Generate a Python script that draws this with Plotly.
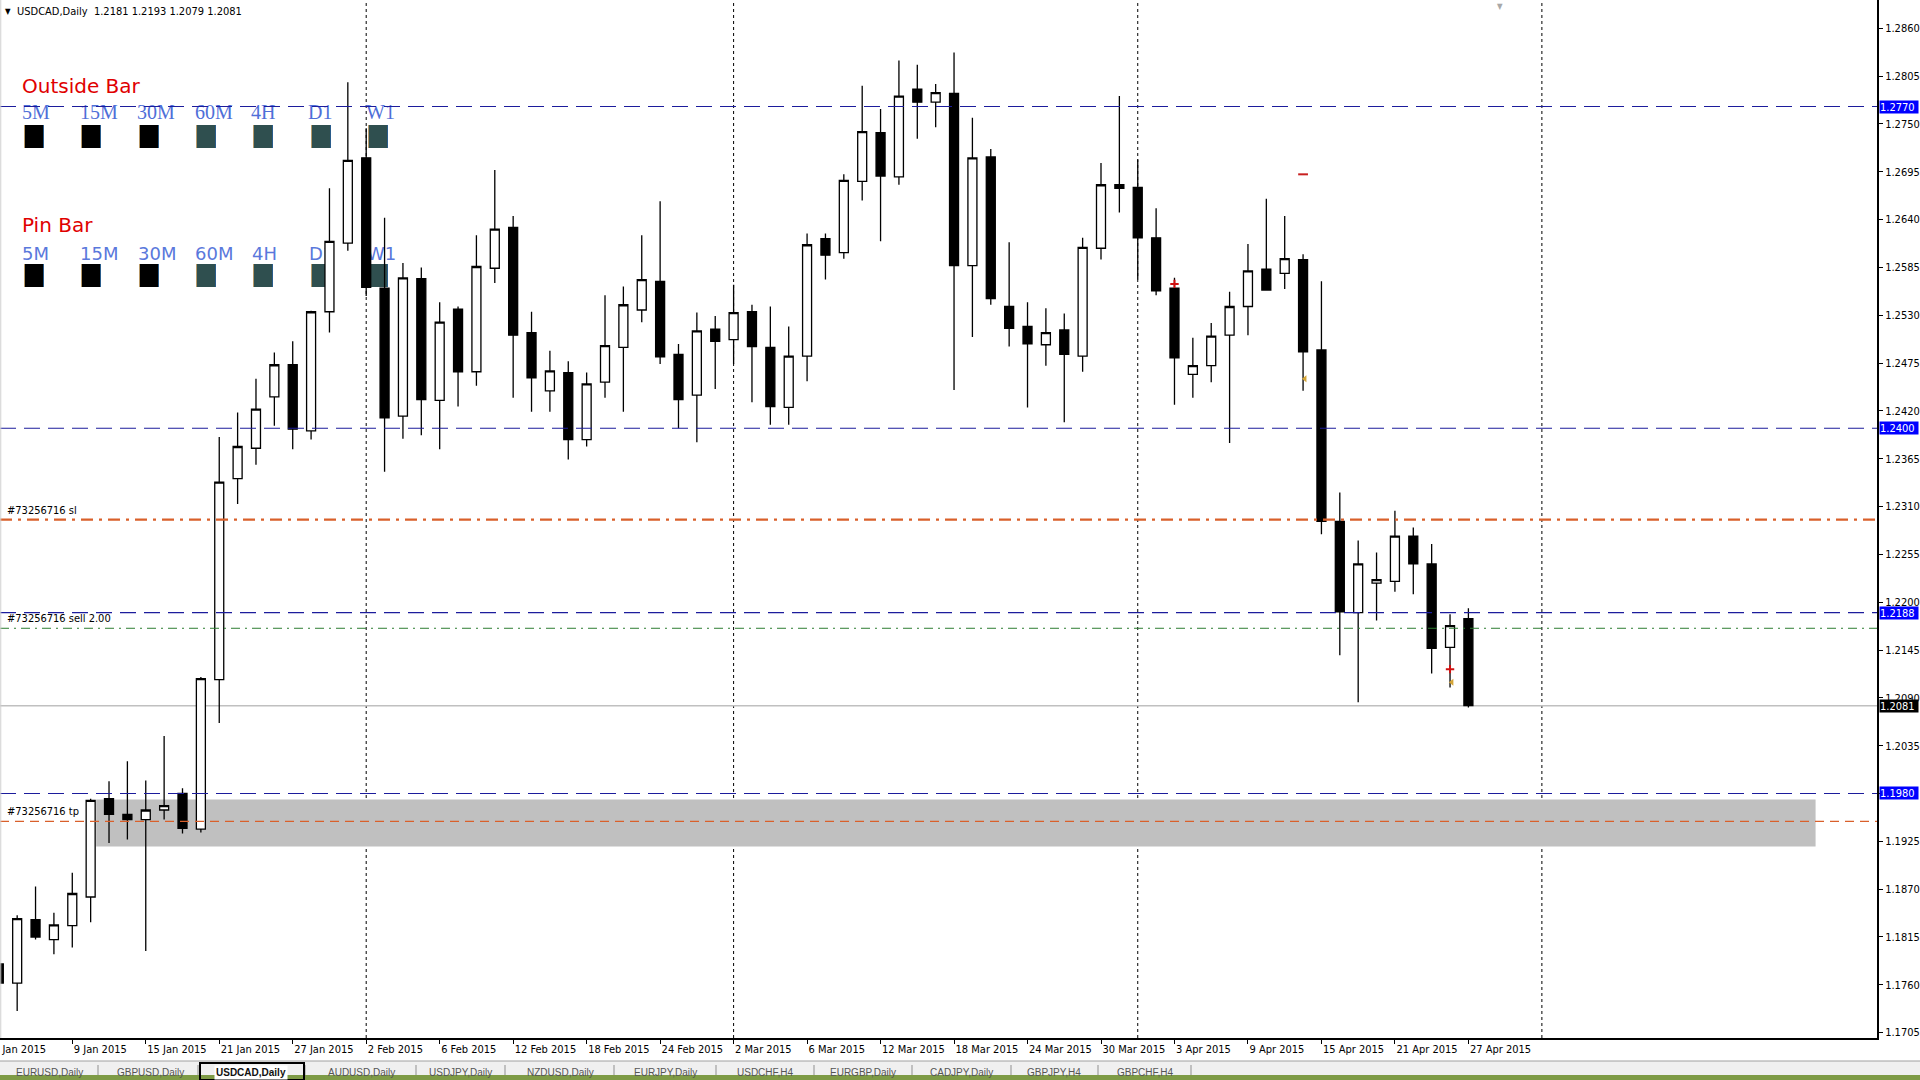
import pandas as pd
import plotly.graph_objects as go

# ---------------- data ----------------
dates = pd.bdate_range("2015-01-05", "2015-04-27")  # 81 daily bars (forex, Mon-Fri)

opens = [1.1784, 1.1762, 1.1835, 1.1812, 1.1828, 1.1861, 1.1974, 1.1956, 1.1950, 1.1961,
         1.1980, 1.1939, 1.2111, 1.2342, 1.2377, 1.2436, 1.2473, 1.2397, 1.2534, 1.2613,
         1.2711, 1.2561, 1.2414, 1.2572, 1.2432, 1.2537, 1.2465, 1.2584, 1.2631, 1.2510,
         1.2443, 1.2464, 1.2387, 1.2453, 1.2493, 1.2536, 1.2569, 1.2485, 1.2438, 1.2514,
         1.2502, 1.2534, 1.2493, 1.2424, 1.2483, 1.2618, 1.2602, 1.2684, 1.2740, 1.2689,
         1.2790, 1.2775, 1.2785, 1.2587, 1.2712, 1.2540, 1.2517, 1.2496, 1.2513, 1.2483,
         1.2607, 1.2680, 1.2677, 1.2619, 1.2561, 1.2462, 1.2472, 1.2507, 1.2540, 1.2583,
         1.2578, 1.2594, 1.2490, 1.2293, 1.2188, 1.2222, 1.2224, 1.2276, 1.2244, 1.2148,
         1.2181]
highs = [1.1790, 1.1840, 1.1873, 1.1843, 1.1889, 1.1974, 1.1994, 1.2017, 1.1995, 1.2046,
         1.1986, 1.2114, 1.2390, 1.2418, 1.2457, 1.2487, 1.2500, 1.2535, 1.2676, 1.2798,
         1.2745, 1.2642, 1.2590, 1.2585, 1.2545, 1.2540, 1.2622, 1.2697, 1.2644, 1.2534,
         1.2489, 1.2477, 1.2464, 1.2553, 1.2563, 1.2622, 1.2661, 1.2497, 1.2533, 1.2529,
         1.2565, 1.2542, 1.2540, 1.2517, 1.2624, 1.2624, 1.2692, 1.2794, 1.2767, 1.2823,
         1.2818, 1.2796, 1.2832, 1.2757, 1.2721, 1.2614, 1.2545, 1.2538, 1.2532, 1.2619,
         1.2705, 1.2782, 1.2709, 1.2653, 1.2573, 1.2504, 1.2521, 1.2557, 1.2612, 1.2664,
         1.2644, 1.2600, 1.2569, 1.2326, 1.2271, 1.2257, 1.2305, 1.2286, 1.2267, 1.2186,
         1.2193]
lows = [1.1752, 1.1730, 1.1812, 1.1795, 1.1803, 1.1832, 1.1923, 1.1927, 1.1799, 1.1950,
        1.1934, 1.1935, 1.2061, 1.2313, 1.2358, 1.2403, 1.2376, 1.2387, 1.2510, 1.2604,
        1.2552, 1.2350, 1.2388, 1.2392, 1.2376, 1.2425, 1.2449, 1.2567, 1.2435, 1.2419,
        1.2419, 1.2364, 1.2379, 1.2435, 1.2419, 1.2522, 1.2474, 1.2400, 1.2384, 1.2445,
        1.2474, 1.2430, 1.2404, 1.2404, 1.2454, 1.2571, 1.2595, 1.2662, 1.2615, 1.2680,
        1.2733, 1.2746, 1.2444, 1.2505, 1.2542, 1.2494, 1.2424, 1.2472, 1.2407, 1.2465,
        1.2594, 1.2648, 1.2571, 1.2553, 1.2427, 1.2435, 1.2453, 1.2383, 1.2507, 1.2558,
        1.2560, 1.2443, 1.2278, 1.2139, 1.2085, 1.2179, 1.2212, 1.2209, 1.2118, 1.2102,
        1.2079]
closes = [1.1762, 1.1836, 1.1815, 1.1829, 1.1865, 1.1972, 1.1956, 1.1950, 1.1961, 1.1966,
          1.1940, 1.2112, 1.2338, 1.2379, 1.2422, 1.2473, 1.2399, 1.2534, 1.2615, 1.2708,
          1.2562, 1.2412, 1.2573, 1.2433, 1.2522, 1.2465, 1.2586, 1.2629, 1.2507, 1.2458,
          1.2466, 1.2387, 1.2451, 1.2495, 1.2542, 1.2571, 1.2482, 1.2433, 1.2512, 1.2500,
          1.2533, 1.2494, 1.2425, 1.2483, 1.2611, 1.2599, 1.2685, 1.2741, 1.2690, 1.2782,
          1.2775, 1.2786, 1.2587, 1.2711, 1.2549, 1.2515, 1.2497, 1.2510, 1.2485, 1.2608,
          1.2680, 1.2676, 1.2619, 1.2558, 1.2481, 1.2472, 1.2506, 1.2540, 1.2581, 1.2559,
          1.2595, 1.2488, 1.2293, 1.2189, 1.2244, 1.2226, 1.2276, 1.2244, 1.2147, 1.2173,
          1.2081]

y_ticks = [1.1705, 1.1760, 1.1815, 1.1870, 1.1925, 1.1980, 1.2035, 1.2090, 1.2145, 1.2200,
           1.2255, 1.2310, 1.2365, 1.2420, 1.2475, 1.2530, 1.2585, 1.2640, 1.2695, 1.2750,
           1.2805, 1.2860]
first_label = "5 Jan 2015"
month_starts = ["2015-02-02", "2015-03-02", "2015-04-01", "2015-05-01"]

h_levels = [1.2770, 1.2400, 1.2188, 1.1980]      # blue horizontal lines
bid_price = 1.2081
order_open, order_sl, order_tp = 1.2170, 1.2295, 1.1948
zone_low, zone_high = 1.1919, 1.1973
zone_from, zone_to = "2015-01-12", "2015-05-22"

# trade arrows (date, price)
sell_marks = [("2015-04-03", 1.2566), ("2015-04-24", 1.2123)]
close_marks = [("2015-04-14", 1.2457), ("2015-04-24", 1.2108)]
dash_marks = [("2015-04-14", 1.2692)]

header = "USDCAD,Daily  1.2181 1.2193 1.2079 1.2081"
timeframes = ["5M", "15M", "30M", "60M", "4H", "D1", "W1"]
tf_colors = ["#000000", "#000000", "#000000", "#2F4F4F", "#2F4F4F", "#2F4F4F", "#2F4F4F"]
tabs = ["EURUSD,Daily", "GBPUSD,Daily", "USDCAD,Daily", "AUDUSD,Daily", "USDJPY,Daily",
        "NZDUSD,Daily", "EURJPY,Daily", "USDCHF,H4", "EURGBP,Daily", "CADJPY,Daily",
        "GBPJPY,H4", "GBPCHF,H4"]

# ---------------- geometry / style ----------------
W, H = 1920, 1080
PL, PR, PT, PB = 0, 1877, 0, 1038
BAR_PX, BAR0_PX = 18.37, -1.2

calendar = pd.bdate_range("2015-01-05", "2015-05-29")
def xi(d):
    return calendar.get_loc(pd.Timestamp(d))

xpos = [xi(d) for d in dates]
label_dates = dates[4::4]
tickvals = [xi(d) for d in label_dates]
ticktext = [f"{d.day} {d.strftime('%b %Y')}" for d in label_dates]

x_range = [(PL - BAR0_PX) / BAR_PX, (PR - BAR0_PX) / BAR_PX]
y_range = [1.169883, 1.289247]

def py(p):  # pixel y -> paper y
    return (PB - p) / (PB - PT)

AXF = "Liberation Sans Narrow, DejaVu Sans Condensed, Liberation Sans, sans-serif"
BLUE_LINE = "#1c1c9c"
ORANGE = "#D9602B"

fig = go.Figure()

# ----- indicator panel text (base pixel subplot, drawn beneath the candles) -----
tf_x1 = [22, 80, 137, 195, 251, 308, 366]
tf_x2 = [22, 80, 138, 195, 252, 309, 367]
fig.add_trace(go.Scatter(x=[22, 22], y=[88, 227], mode="text", text=["Outside Bar", "Pin Bar"],
                         textposition="middle right",
                         textfont=dict(family="DejaVu Sans, sans-serif", size=20, color="#E00000"),
                         hoverinfo="skip", showlegend=False, xaxis="x", yaxis="y"))
fig.add_trace(go.Scatter(x=tf_x1, y=[114] * 7, mode="text", text=timeframes,
                         textposition="middle right",
                         textfont=dict(family="Liberation Serif, serif", size=20, color="#4f6fd8"),
                         hoverinfo="skip", showlegend=False, xaxis="x", yaxis="y"))
fig.add_trace(go.Scatter(x=tf_x2, y=[255] * 7, mode="text", text=timeframes,
                         textposition="middle right",
                         textfont=dict(family="DejaVu Sans, sans-serif", size=18, color="#5a78dc"),
                         hoverinfo="skip", showlegend=False, xaxis="x", yaxis="y"))

# ----- candles -----
fig.add_trace(go.Candlestick(
    x=xpos, open=opens, high=highs, low=lows, close=closes,
    increasing=dict(line=dict(color="black", width=1.3), fillcolor="white"),
    decreasing=dict(line=dict(color="black", width=1.3), fillcolor="black"),
    whiskerwidth=0, hoverinfo="skip", showlegend=False, xaxis="x2", yaxis="y2"))

# ----- trade arrows -----
fig.add_trace(go.Scatter(x=[xi(d) for d, _ in sell_marks], y=[p for _, p in sell_marks],
                         mode="markers", marker=dict(symbol="cross-thin", size=6,
                         line=dict(color="#D01010", width=2)),
                         hoverinfo="skip", showlegend=False, xaxis="x2", yaxis="y2"))
fig.add_trace(go.Scatter(x=[xi(d) + 0.1 for d, _ in close_marks], y=[p for _, p in close_marks],
                         mode="markers", marker=dict(symbol="triangle-left", size=6, color="#D4A537"),
                         hoverinfo="skip", showlegend=False, xaxis="x2", yaxis="y2"))
fig.add_trace(go.Scatter(x=[xi(d) for d, _ in dash_marks], y=[p for _, p in dash_marks],
                         mode="markers", marker=dict(symbol="line-ew", size=7,
                         line=dict(color="#C82020", width=2)),
                         hoverinfo="skip", showlegend=False, xaxis="x2", yaxis="y2"))

shapes = []
# indicator squares (pixel positions, underneath everything)
sq_x = [24, 81, 139, 196, 253, 311, 368]
for row_top in (125, 264):
    for sx, col in zip(sq_x, tf_colors):
        shapes.append(dict(type="rect", xref="paper", yref="paper", layer="below",
                           x0=sx / PR, x1=(sx + 20) / PR, y0=py(row_top + 23), y1=py(row_top),
                           fillcolor=col, line=dict(width=0)))
        shapes.append(dict(type="line", xref="paper", yref="paper", layer="below",
                           x0=(sx + 0.5) / PR, x1=(sx + 0.5) / PR,
                           y0=py(row_top + 23), y1=py(row_top),
                           line=dict(color="#B89A6A", width=1)))
        shapes.append(dict(type="line", xref="paper", yref="paper", layer="below",
                           x0=(sx + 19.5) / PR, x1=(sx + 19.5) / PR,
                           y0=py(row_top + 23), y1=py(row_top),
                           line=dict(color="#2A5C8A", width=1)))
# support zone
shapes.append(dict(type="rect", xref="x2", yref="y2", layer="below",
                   x0=xi(zone_from) + 0.3, x1=xi(zone_to) - 0.1, y0=zone_low, y1=zone_high,
                   fillcolor="#C0C0C0", line=dict(width=0)))
# month separators
for d in month_starts:
    shapes.append(dict(type="line", xref="x2", yref="paper", layer="below",
                       x0=xi(d), x1=xi(d), y0=0, y1=1,
                       line=dict(color="black", width=1, dash="3px,3px")))
# bid line
shapes.append(dict(type="line", xref="paper", yref="y2", layer="below", x0=0, x1=1,
                   y0=bid_price, y1=bid_price, line=dict(color="#C0C0C0", width=1.5)))
# horizontal levels
for lv in h_levels:
    shapes.append(dict(type="line", xref="paper", yref="y2", layer="above", x0=0, x1=1,
                       y0=lv, y1=lv, line=dict(color=BLUE_LINE, width=1.2, dash="16px,8px")))
# order lines
shapes.append(dict(type="line", xref="paper", yref="y2", layer="above", x0=0, x1=1,
                   y0=order_sl, y1=order_sl,
                   line=dict(color=ORANGE, width=2.2, dash="12px,6px,3px,6px")))
shapes.append(dict(type="line", xref="paper", yref="y2", layer="above", x0=0, x1=1,
                   y0=order_open, y1=order_open,
                   line=dict(color="#2E7D32", width=1, dash="9px,5px,2px,5px")))
shapes.append(dict(type="line", xref="paper", yref="y2", layer="above", x0=0, x1=1,
                   y0=order_tp, y1=order_tp,
                   line=dict(color=ORANGE, width=1.3, dash="9px,6px")))
# left window edge
shapes.append(dict(type="line", xref="paper", yref="paper", x0=0.0004, x1=0.0004, y0=0, y1=1,
                   line=dict(color="#D0D0D0", width=1)))
# bottom tab strip
shapes.append(dict(type="rect", xref="paper", yref="paper", layer="below",
                   x0=0, x1=W / PR, y0=py(H), y1=py(1061), fillcolor="#F0F0F0", line=dict(width=0)))
shapes.append(dict(type="line", xref="paper", yref="paper", x0=0, x1=W / PR,
                   y0=py(1061), y1=py(1061), line=dict(color="#A0A0A0", width=1)))
shapes.append(dict(type="rect", xref="paper", yref="paper", layer="below",
                   x0=0, x1=W / PR, y0=py(H), y1=py(1075), fillcolor="#7E9B46", line=dict(width=0)))

annotations = []
# header
annotations.append(dict(xref="paper", yref="paper", x=3 / PR, y=py(12), xanchor="left",
                        yanchor="middle", showarrow=False, text="▼",
                        font=dict(family=AXF, size=8, color="black")))
annotations.append(dict(xref="paper", yref="paper", x=15 / PR, y=py(12), xanchor="left",
                        yanchor="middle", showarrow=False, text=header,
                        font=dict(family=AXF, size=11, color="black")))
# chart shift marker
annotations.append(dict(xref="paper", yref="paper", x=1500 / PR, y=py(7), xanchor="center",
                        yanchor="middle", showarrow=False, text="▼",
                        font=dict(family=AXF, size=8, color="#A8A8A8")))
# cut-off first date label
annotations.append(dict(xref="paper", yref="paper", x=0, xshift=-9, y=py(1049),
                        xanchor="left", yanchor="middle", showarrow=False, text=first_label,
                        font=dict(family=AXF, size=11, color="black")))
# order labels
for price, txt in ((order_sl, "#73256716 sl"), (order_open, "#73256716 sell 2.00"),
                   (order_tp, "#73256716 tp")):
    annotations.append(dict(xref="paper", yref="y2", x=0, xshift=5, y=price, yshift=1,
                            xanchor="left", yanchor="bottom", showarrow=False, text=txt,
                            font=dict(family=AXF, size=11, color="black")))
# highlighted price labels on the axis
for lv, bg in [(h, "#0000FF") for h in h_levels] + [(bid_price, "#000000")]:
    annotations.append(dict(xref="paper", yref="y2", x=1, xshift=2, y=lv, xanchor="left",
                            yanchor="middle", showarrow=False, text=f"{lv:.4f}",
                            bgcolor=bg, borderpad=0, width=38, height=12, align="left",
                            font=dict(family=AXF, size=11, color="white")))
# tabs
tab_cx = [49, 150, 251, 361, 460, 560, 665, 765, 863, 961, 1054, 1145]
tab_div = [98, 198, 305, 416, 505, 614, 716, 814, 912, 1011, 1098, 1191]
for name, cx in zip(tabs, tab_cx):
    active = name == "USDCAD,Daily"
    annotations.append(dict(xref="paper", yref="paper", x=cx / PR, y=py(1072), xanchor="center",
                            yanchor="middle", showarrow=False,
                            text=f"<b>{name}</b>" if active else name,
                            bgcolor="white" if active else None,
                            font=dict(family="Liberation Sans, sans-serif", size=10,
                                      color="#111" if active else "#555")))
for dx in tab_div:
    shapes.append(dict(type="line", xref="paper", yref="paper", x0=dx / PR, x1=dx / PR,
                       y0=py(1075), y1=py(1065), line=dict(color="#909090", width=1)))
shapes.append(dict(type="rect", xref="paper", yref="paper", x0=200 / PR, x1=304 / PR,
                   y0=py(1080), y1=py(1063), line=dict(color="black", width=2)))

# tick labels hidden behind the highlighted level labels are left blank
covered = {f"{v:.4f}" for v in h_levels}
y_ticktext = ["" if f"{v:.4f}" in covered else f"{v:.4f}" for v in y_ticks]

fig.update_layout(
    width=W, height=H,
    margin=dict(l=PL, r=W - PR, t=PT, b=H - PB),
    paper_bgcolor="white", plot_bgcolor="rgba(0,0,0,0)",
    showlegend=False, hovermode=False,
    boxgap=0.3,
    shapes=shapes, annotations=annotations,
    xaxis=dict(domain=[0, 1], range=[PL, PR], visible=False, fixedrange=True),
    yaxis=dict(domain=[0, 1], range=[PB, PT], visible=False, fixedrange=True),
    xaxis2=dict(domain=[0, 1], anchor="y2", range=x_range, showgrid=False, zeroline=False,
                tickvals=tickvals, ticktext=ticktext, ticks="outside", ticklen=4,
                tickcolor="black", ticklabelposition="outside right",
                showline=True, linecolor="black", linewidth=2,
                tickfont=dict(family=AXF, size=11, color="black"),
                rangeslider=dict(visible=False), fixedrange=True),
    yaxis2=dict(domain=[0, 1], anchor="x2", side="right", range=y_range, showgrid=False,
                zeroline=False, tickvals=y_ticks, ticktext=y_ticktext,
                ticks="outside", ticklen=4, tickcolor="black",
                showline=True, linecolor="black", linewidth=2,
                tickfont=dict(family=AXF, size=11, color="black"), fixedrange=True),
)

fig.write_html("out.html")
